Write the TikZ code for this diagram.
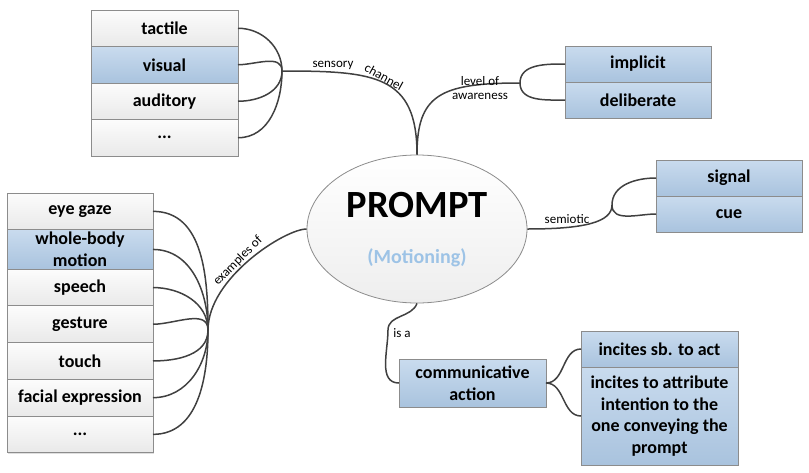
\documentclass[tikz,border=0pt]{standalone}
\usepackage{fontspec}
\setmainfont{Carlito}
\usetikzlibrary{positioning,shapes.geometric,shadows}
\definecolor{boxline}{HTML}{8C8C8C}
\definecolor{bluetop}{HTML}{C9DBEE}
\definecolor{bluebot}{HTML}{A9C3DE}
\definecolor{greytop}{HTML}{FCFCFC}
\definecolor{greybot}{HTML}{E9E9E9}
\definecolor{ovalbot}{HTML}{EEEEEE}
\definecolor{wirecol}{HTML}{404040}
\definecolor{motion}{HTML}{9DC3E6}
\tikzset{
 item/.style={draw=boxline, line width=0.9pt, rectangle, inner sep=0pt, outer sep=0pt,
   minimum width=147pt, minimum height=36.5pt, align=center,
   font=\bfseries\fontsize{18}{21.5}\selectfont,
   drop shadow={shadow xshift=1pt, shadow yshift=-1pt, opacity=0.25}},
 greybox/.style={item, top color=greytop, bottom color=greybot},
 bluebox/.style={item, top color=bluetop, bottom color=bluebot},
 wire/.style={draw=wirecol, line width=1.5pt},
 lbl/.style={inner sep=0pt, align=center, font=\fontsize{13}{14}\selectfont}
}
\begin{document}
\begin{tikzpicture}[x=1pt,y=-1pt]
 \useasboundingbox (0,0) rectangle (809,472);
 % centre
 \node[ellipse, draw=boxline, line width=0.8pt, top color=white, bottom color=ovalbot,
   minimum width=220pt, minimum height=148pt] (prompt) at (417,229) {};
 \node[font=\bfseries\fontsize{38.5}{42}\selectfont] (title) at (417,205) {PROMPT};
 \node[font=\bfseries\fontsize{20}{24}\selectfont, text=motion] (sub) at (417,258) {(Motioning)};

 % sensory channel
 \node[greybox] (tactile) at (164.5,28.25) {tactile};
 \node[bluebox, below=0pt of tactile] (visual) {visual};
 \node[greybox, below=0pt of visual] (auditory) {auditory};
 \node[greybox, below=0pt of auditory] (moresense) {...};
 \coordinate (sensejoin) at (282,71);
 \foreach \n in {tactile,visual} \draw[wire] (\n.east) to[out=0,in=90] (sensejoin);
 \foreach \n in {auditory,moresense} \draw[wire] (\n.east) to[out=0,in=-90] (sensejoin);
 \draw[wire] (sensejoin) .. controls (375,71) and (417,75) .. (prompt.north);
 \node[lbl] (sensory) at (333,65) {sensory};
 \node[lbl, rotate=-29] (channel) at (384,77) {channel};

 % level of awareness
 \node[bluebox, minimum width=146pt, minimum height=36pt] (implicit) at (638,64) {implicit};
 \node[bluebox, minimum width=146pt, minimum height=36pt, below=0pt of implicit] (deliberate) {deliberate};
 \coordinate (awarejoin) at (520,83);
 \draw[wire] (prompt.north) .. controls (417,95) and (440,83) .. (awarejoin);
 \draw[wire] (awarejoin) to[out=90,in=180] (implicit.west);
 \draw[wire] (awarejoin) to[out=-90,in=180] (deliberate.west);
 \node[lbl] (aware) at (480,88) {level of\\awareness};

 % semiotic
 \node[bluebox, minimum width=146pt, minimum height=36pt] (signal) at (729,178) {signal};
 \node[bluebox, minimum width=146pt, minimum height=36pt, below=0pt of signal] (cue) {cue};
 \coordinate (semjoin) at (612,205);
 \draw[wire] (prompt.east) .. controls (585,229) and (612,222) .. (semjoin);
 \draw[wire] (semjoin) to[out=90,in=180] (signal.west);
 \draw[wire] (semjoin) to[out=-90,in=180] (cue.west);
 \node[lbl] (semiotic) at (567,219) {semiotic};

 % examples of
 \node[greybox, minimum width=146pt, minimum height=36.7pt] (gaze) at (80,211.35) {eye gaze};
 \node[bluebox, minimum width=146pt, minimum height=39.5pt, below=0pt of gaze] (wholebody) {whole-body\\motion};
 \node[greybox, minimum width=146pt, minimum height=36.7pt, below=0pt of wholebody] (speech) {speech};
 \node[greybox, minimum width=146pt, minimum height=36.7pt, below=0pt of speech] (gesture) {gesture};
 \node[greybox, minimum width=146pt, minimum height=36.7pt, below=0pt of gesture] (touch) {touch};
 \node[greybox, minimum width=146pt, minimum height=36.7pt, below=0pt of touch] (facial) {facial expression};
 \node[greybox, minimum width=146pt, minimum height=36.7pt, below=0pt of facial] (moreex) {...};
 \coordinate (exjoin) at (208,330);
 \draw[wire] (prompt.west) .. controls (285,229) and (208,278) .. (exjoin);
 \foreach \n in {gaze,wholebody,speech,gesture} \draw[wire] (\n.east) to[out=0,in=90] (exjoin);
 \foreach \n in {touch,facial,moreex} \draw[wire] (\n.east) to[out=0,in=-90] (exjoin);
 \node[lbl, rotate=45] (examples) at (238,261) {examples of};

 % is a
 \node[bluebox, minimum height=48pt] (comm) at (472.5,383) {communicative\\action};
 \coordinate (isabend) at (388,330);
 \draw[wire] (prompt.south) to[out=-110,in=90] (isabend) to[out=-90,in=180] (comm.west);
 \node[lbl] (isa) at (402,333) {is a};
 \node[bluebox, minimum width=157pt, minimum height=36pt] (act) at (659.5,349) {incites sb. to act};
 \node[bluebox, minimum width=157pt, minimum height=98pt, below=0pt of act] (attrib)
   {incites to attribute\\intention to the\\one conveying the\\prompt};
 \draw[wire] (comm.east) to[out=0,in=180] (act.west);
 \draw[wire] (comm.east) to[out=0,in=180] (attrib.west);
\end{tikzpicture}
\end{document}
